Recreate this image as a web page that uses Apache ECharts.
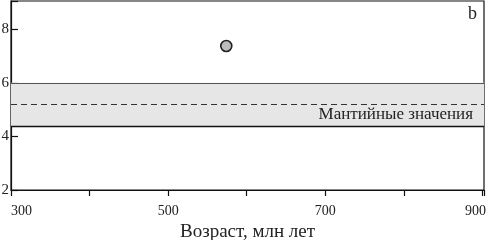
<!DOCTYPE html>
<html><head><meta charset="utf-8">
<script src="https://cdn.jsdelivr.net/npm/echarts@6/dist/echarts.min.js"></script>
<style>html,body{margin:0;padding:0;background:#fff}#c{width:489px;height:240px}</style>
</head><body><div id="c"></div>
<script>
const xTicks = [300, 400, 500, 600, 700, 800, 900];
const yTicks = [2, 4, 6, 8];
const points = [[574, 7.37]];
const mantleLow = 4.37;
const mantleHigh = 6.0;
const mantleMean = 5.2;
const bandLabel = 'Мантийные значения';
const panelLabel = 'b';
const xName = 'Возраст, млн лет';

const F = '"Liberation Serif", "Times New Roman", serif';
const chart = echarts.init(document.getElementById('c'));
chart.setOption({
  animation: false,
  grid: {left: 11, right: 5, top: 1, bottom: 50, show: true, borderColor: '#111', borderWidth: 1.2,
    outerBoundsMode: 'none', containLabel: false},
  xAxis: {
    type: 'value', min: 300, max: 902, interval: 100,
    axisLine: {show: true, lineStyle: {color: '#111', width: 1.2}},
    axisTick: {show: true, inside: false, length: 6, lineStyle: {color: '#111', width: 1.2}},
    splitLine: {show: false},
    axisLabel: {fontFamily: F, fontSize: 14, color: '#222', margin: 14,
      alignMinLabel: 'left',
      formatter: v => (v === 900 ? '{r|900}' : ((v % 200 === 100 && xTicks.includes(v)) ? v : '')),
      rich: {r: {fontFamily: F, fontSize: 14, color: '#222', padding: [0, 14, 0, 0]}}},
    name: xName, nameLocation: 'middle', nameGap: 30,
    nameTextStyle: {fontFamily: F, fontSize: 19, color: '#222'}
  },
  yAxis: {
    type: 'value', min: 2, max: 9.05, interval: 2,
    axisLine: {show: true, lineStyle: {color: '#111', width: 1.2}},
    axisTick: {show: true, inside: true, length: 7, lineStyle: {color: '#111', width: 1.2}},
    splitLine: {show: false},
    axisLabel: {fontFamily: F, fontSize: 15, color: '#222', margin: 2,
      formatter: v => yTicks.includes(v) ? v : ''}
  },
  series: [{
    type: 'scatter', data: points, symbolSize: 11,
    itemStyle: {color: '#bdbdbd', borderColor: '#222', borderWidth: 1.6, opacity: 1},
    z: 5,
    markArea: {silent: true, itemStyle: {color: '#e6e6e6'},
      data: [[{yAxis: mantleLow}, {yAxis: mantleHigh}]]},
    markLine: {silent: true, symbol: 'none', label: {show: false},
      data: [
        {yAxis: mantleHigh, lineStyle: {color: '#555', width: 1.2, type: 'solid'}},
        {yAxis: mantleLow, lineStyle: {color: '#111', width: 1.4, type: 'solid'}},
        {yAxis: mantleMean, lineStyle: {color: '#333', width: 1.1, type: [6, 4]}}
      ]}
  }],
  graphic: [
    {type: 'text', z: 100, right: 12, top: 5, style: {text: panelLabel, font: '18px ' + F, fill: '#222'}},
    {type: 'text', z: 100, right: 16, top: 106, style: {text: bandLabel, font: '17px ' + F, fill: '#222'}}
  ]
});
</script></body></html>
